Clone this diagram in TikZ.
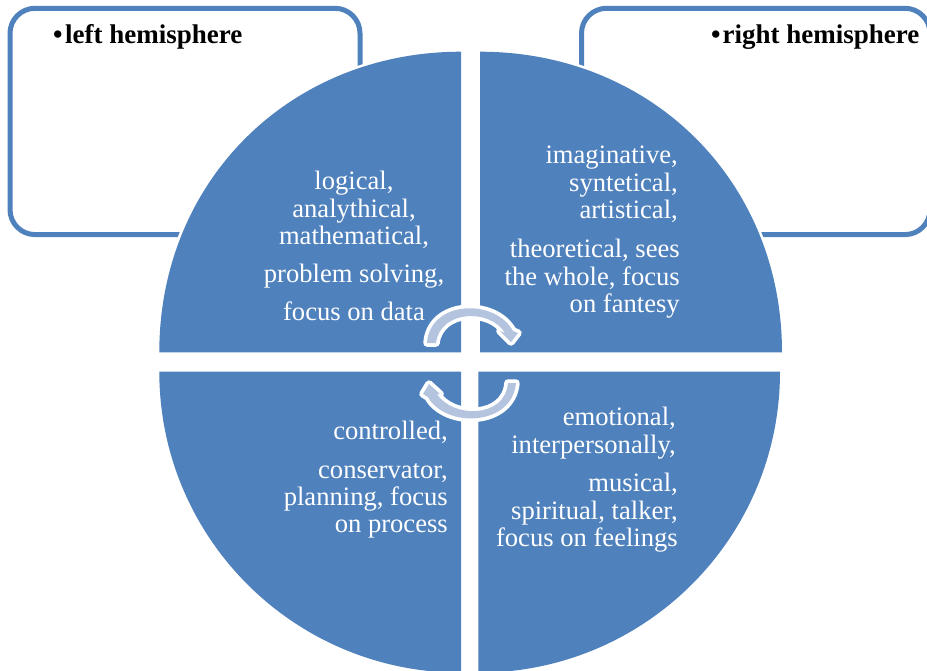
\documentclass[tikz,border=0pt]{standalone}
\usepackage{fontspec}
\setmainfont{Liberation Serif}
\definecolor{dblue}{HTML}{4F81BD}
\definecolor{arrowfill}{HTML}{B4C4DF}
\tikzset{x=1pt,y=-1pt,
  roundbox/.style={draw=dblue,line width=5pt,fill=white,rounded corners=25pt},
  quadrant/.style={fill=dblue},
  halo/.style={draw=white,line width=5pt},
  righttext/.style={text=white,font=\fontsize{26.6}{27.4}\selectfont,align=right,inner sep=0pt,anchor=north east},
  midtext/.style={text=white,font=\fontsize{26.6}{27.4}\selectfont,align=center,inner sep=0pt,anchor=north},
  headtext/.style={text=black,font=\fontsize{27}{27}\selectfont\bfseries,inner sep=0pt,anchor=base west},
  cyclearrow/.style={fill=arrowfill,preaction={draw=white,line width=7.5pt,line join=round}}}
\begin{document}
\begin{tikzpicture}
\useasboundingbox (0,0) rectangle (927,670);
\fill[white] (0,0) rectangle (927,670);
\begin{scope}
\clip (0,0) rectangle (927,670);
\draw[roundbox] (10,8.3) rectangle (360,234.6);
\draw[roundbox] (581.5,8.3) rectangle (930,234.6);
% white halo that cuts the boxes, then the four quadrants
\draw[halo] (159,352.3) .. controls (159,180.9) and (289.9,51.7) .. (461,51.7);
\draw[halo] (480,51.7) .. controls (651.1,51.7) and (782,180.9) .. (782,352.3);
\fill[quadrant] (461,352.3) -- (159.3,352.3) .. controls (159.3,180.9) and (289.9,51.7) .. (461,51.7) -- cycle;
\fill[quadrant] (480,352.3) -- (480,51.7) .. controls (651.1,51.7) and (782,180.9) .. (782,352.3) -- cycle;
\fill[quadrant] (461,371.7) -- (159.3,371.7) .. controls (159.3,538) and (294.3,672.7) .. (461,672.7) -- cycle;
\fill[quadrant] (478.3,371.7) -- (780,371.7) .. controls (780,538) and (645,672.7) .. (478.3,672.7) -- cycle;
\end{scope}
\node[headtext] (lh) at (53,43) {•\hspace{2.5pt}left hemisphere};
\node[headtext] (rh) at (711,43) {•\hspace{2pt}right hemisphere};
\node[midtext] (t1) at (354,171) {logical,\\analythical,\\mathematical,};
\node[midtext] (t2) at (354,264) {problem solving,};
\node[midtext] (t3) at (354,302) {focus on data};
\node[righttext] (t4) at (678,146) {imaginative,\\syntetical,\\artistical,};
\node[righttext] (t5) at (680,239) {theoretical, sees\\the whole, focus\\on fantesy};
\node[righttext] (t6) at (448,421) {controlled,};
\node[righttext] (t7) at (448,463) {conservator,\\planning, focus\\on process};
\node[righttext] (t8) at (676,407) {emotional,\\interpersonally,};
\node[righttext] (t9) at (678,473) {musical,\\spiritual, talker,\\focus on feelings};
\path[cyclearrow] (427,343) .. controls (430,300) and (495,298) .. (513,331) -- (518,333) -- (511,342) -- (500,331) -- (505,333) .. controls (490,308) and (440,310) .. (436,343) -- cycle;
\path[cyclearrow] (516,383) .. controls (512,427) and (445,428) .. (428,397) -- (423,394) -- (429,384) -- (440,394) -- (437,394) .. controls (452,418) and (505,419) .. (508,383) -- cycle;
\end{tikzpicture}
\end{document}
